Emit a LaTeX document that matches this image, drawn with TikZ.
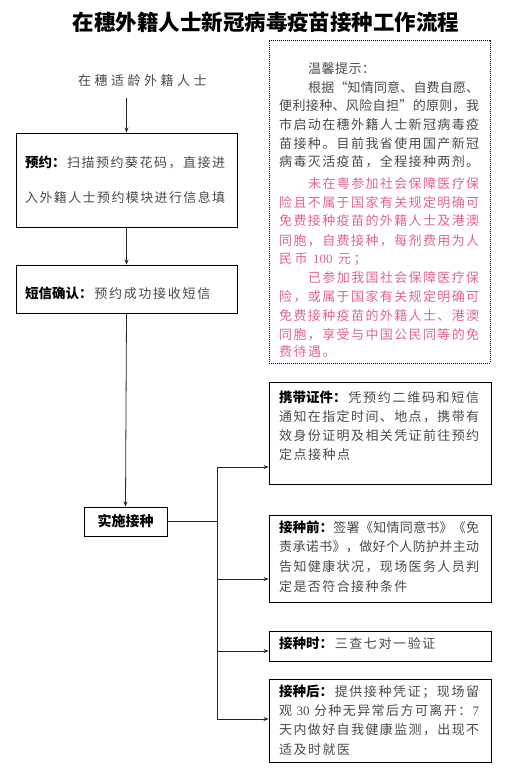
\documentclass[tikz,border=0pt]{standalone}
\usepackage{fontspec}
\setmainfont{Noto Sans CJK SC}
\newfontfamily\digits{Liberation Serif}
\usetikzlibrary{arrows.meta}
\definecolor{pinktxt}{HTML}{E2648E}
\definecolor{bodytxt}{HTML}{4A4A4A}
\def\spreadA#1{#1\spreadB}
\def\spreadB#1{\ifx\relax#1\else\spreadglue#1\expandafter\spreadB\fi}
\newcommand\JustLine[2]{\makebox[#1][s]{\def\spreadglue{\hskip 0pt plus 1fil\relax}\spreadA#2\relax}}
\newcommand\GapLine[2]{\begingroup\def\spreadglue{\hskip #1\relax}\spreadA#2\relax\endgroup}
\newcommand\lab[1]{{\fontsize{13.5}{16}\selectfont\bfseries\color{black}#1}}
\newcommand\num[1]{{\hskip 3pt\digits #1\hskip 3pt}}
\tikzset{
  box/.style={draw=black, line width=0.9pt, inner sep=0pt},
  txt/.style={anchor=base west, inner sep=0pt, font=\fontsize{13}{16}\selectfont, text=bodytxt},
  ptxt/.style={txt, text=pinktxt},
  conn/.style={draw=black!85, line width=0.8pt},
  arr/.style={conn, -{Stealth[length=5pt,width=4pt]}},
}
\begin{document}
\begin{tikzpicture}[x=1pt,y=-1pt]
\useasboundingbox (0,0) rectangle (520,777);

% title
\node[anchor=base, inner sep=0pt, font=\fontsize{21.5}{24}\selectfont\bfseries] (title) at (266,30) {在穗外籍人士新冠病毒疫苗接种工作流程};

% start
\node[txt] (start) at (78,85) {\GapLine{3.5pt}{在穗适龄外籍人士}};

% left flow boxes
\node[box, minimum width=221pt, minimum height=94pt] (b1) at (126.5,180) {};
\node[txt] (b1t1) at (25,167) {\JustLine{200pt}{{\lab{预约：}}扫描预约葵花码，直接进}};
\node[txt] (b1t2) at (25,202) {\JustLine{200pt}{入外籍人士预约模块进行信息填}};

\node[box, minimum width=221pt, minimum height=48pt] (b2) at (126.5,289) {};
\node[txt] (b2t1) at (25,298) {\GapLine{1.7pt}{{\lab{短信确认：}}预约成功接收短信}};

\node[box, minimum width=83pt, minimum height=29pt, font=\fontsize{14}{16}\selectfont\bfseries] (b3) at (125.5,521.5) {实施接种};

% tips box
\node[draw=black, line width=0.9pt, dash pattern=on 0.9pt off 1.1pt, inner sep=0pt, minimum width=221pt, minimum height=323pt] (tips) at (379.5,201.5) {};
\node[txt] (d1) at (308,73) {\GapLine{0.5pt}{温馨提示：}};
\node[txt] (d2) at (308,92) {\JustLine{171pt}{根据“知情同意、自费自愿、}};
\node[txt] (d3) at (279,110.7) {\JustLine{200pt}{便利接种、风险自担”的原则，我}};
\node[txt] (d4) at (279,129) {\JustLine{200pt}{市启动在穗外籍人士新冠病毒疫}};
\node[txt] (d5) at (279,148) {\JustLine{200pt}{苗接种。目前我省使用国产新冠}};
\node[txt] (d6) at (279,166) {\JustLine{200pt}{病毒灭活疫苗，全程接种两剂。}};
\node[ptxt] (p1) at (308,188.3) {\JustLine{171pt}{未在粤参加社会保障医疗保}};
\node[ptxt] (p2) at (279,207.3) {\JustLine{200pt}{险且不属于国家有关规定明确可}};
\node[ptxt] (p3) at (279,225.7) {\JustLine{200pt}{免费接种疫苗的外籍人士及港澳}};
\node[ptxt] (p4) at (279,245) {\JustLine{200pt}{同胞，自费接种，每剂费用为人}};
\node[ptxt] (p5) at (279,263.3) {\GapLine{2.5pt}{民币{{\num{100}}}元；}};
\node[ptxt] (q1) at (308,282.3) {\JustLine{171pt}{已参加我国社会保障医疗保}};
\node[ptxt] (q2) at (279,301) {\JustLine{200pt}{险，或属于国家有关规定明确可}};
\node[ptxt] (q3) at (279,320) {\JustLine{200pt}{免费接种疫苗的外籍人士、港澳}};
\node[ptxt] (q4) at (279,339) {\JustLine{200pt}{同胞，享受与中国公民同等的免}};
\node[ptxt] (q5) at (279,356.7) {\GapLine{1.5pt}{费待遇。}};

% right boxes
\node[box, minimum width=222pt, minimum height=102pt] (c1) at (380,433) {};
\node[txt] (c1t1) at (279,402) {\JustLine{200pt}{{\lab{携带证件：}}凭预约二维码和短信}};
\node[txt] (c1t2) at (279,421) {\JustLine{200pt}{通知在指定时间、地点，携带有}};
\node[txt] (c1t3) at (279,440) {\JustLine{200pt}{效身份证明及相关凭证前往预约}};
\node[txt] (c1t4) at (279,459) {\GapLine{1.5pt}{定点接种点}};

\node[box, minimum width=222pt, minimum height=87pt] (c2) at (380,558.5) {};
\node[txt] (c2t1) at (279,532) {\JustLine{200pt}{{\lab{接种前：}}签署《知情同意书》《免}};
\node[txt] (c2t2) at (279,551) {\JustLine{200pt}{责承诺书》，做好个人防护并主动}};
\node[txt] (c2t3) at (279,571) {\JustLine{200pt}{告知健康状况，现场医务人员判}};
\node[txt] (c2t4) at (279,591) {\GapLine{1.4pt}{定是否符合接种条件}};

\node[box, minimum width=222pt, minimum height=30pt] (c3) at (380,646) {};
\node[txt] (c3t1) at (279,648.5) {\GapLine{1.6pt}{{\lab{接种时：}}三查七对一验证}};

\node[box, minimum width=222pt, minimum height=83pt] (c4) at (380,720.5) {};
\node[txt] (c4t1) at (279,696) {\JustLine{200pt}{{\lab{接种后：}}提供接种凭证；现场留}};
\node[txt] (c4t2) at (279,715) {\JustLine{200pt}{观{{\num{30}}}分种无异常后方可离开：{{\digits 7}}}};
\node[txt] (c4t3) at (279,734) {\JustLine{200pt}{天内做好自我健康监测，出现不}};
\node[txt] (c4t4) at (279,754) {\GapLine{1.5pt}{适及时就医}};

% connectors
\draw[arr] ([yshift=-12pt]start.south -| b1.north) -- (b1.north);
\draw[arr] (b1.south) -- (b2.north);
\draw[arr] (b2.south) -- (b3.north);
\coordinate (j) at (217,521.5);
\coordinate (a1) at ([yshift=-34pt]c1.west);
\coordinate (a2) at ([yshift=-20.5pt]c2.west);
\coordinate (a3) at ([yshift=-5pt]c3.west);
\coordinate (a4) at ([yshift=1.5pt]c4.west);
\draw[conn] (b3.east) -- (j);
\draw[conn] (j |- a1) -- (j |- a4);
\draw[arr] (j |- a1) -- (a1);
\draw[arr] (j |- a2) -- (a2);
\draw[arr] (j |- a3) -- (a3);
\draw[arr] (j |- a4) -- (a4);
\end{tikzpicture}
\end{document}
